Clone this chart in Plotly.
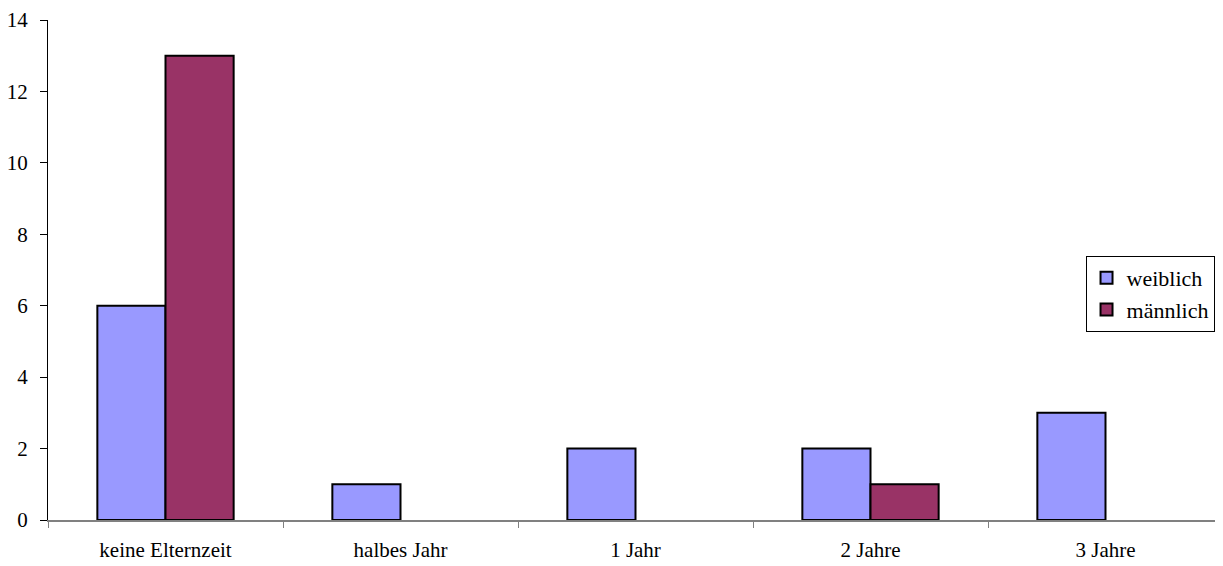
import plotly.graph_objects as go

categories = ["keine Elternzeit", "halbes Jahr", "1 Jahr", "2 Jahre", "3 Jahre"]
weiblich = [6, 1, 2, 2, 3]
maennlich = [13, 0, 0, 1, 0]
y_ticks = [0, 2, 4, 6, 8, 10, 12, 14]

def nz(vals):
    return [v if v else None for v in vals]

fig = go.Figure()
fig.add_trace(go.Bar(name="weiblich", x=categories, y=nz(weiblich),
                     marker=dict(color="#9999FF", line=dict(color="black", width=2))))
fig.add_trace(go.Bar(name="männlich", x=categories, y=nz(maennlich),
                     marker=dict(color="#993366", line=dict(color="black", width=2))))

fig.update_layout(
    width=1215, height=558,
    margin=dict(l=40, r=0, t=12, b=46),
    paper_bgcolor="white", plot_bgcolor="white",
    barmode="group", bargap=0.42, bargroupgap=0,
    font=dict(family="Liberation Serif, Times New Roman, serif", size=21, color="black"),
    legend=dict(x=0.883, y=0.528, xanchor="left", yanchor="top",
                bordercolor="black", borderwidth=1, bgcolor="white",
                font=dict(size=22), tracegroupgap=0, itemwidth=30),
    showlegend=True,
)
fig.update_xaxes(type="category", tickson="boundaries", ticks="outside", ticklen=6,
                 tickcolor="#808080", showline=True, linecolor="#808080", linewidth=2,
                 showgrid=False, range=[-0.5, 4.5], ticklabelstandoff=10)
fig.update_yaxes(range=[0, 14], tickvals=y_ticks, ticks="outside", ticklen=7,
                 tickcolor="black", showline=True, linecolor="black", linewidth=1,
                 showgrid=False, zeroline=False, ticklabelstandoff=8)

fig.write_html("out.html")
